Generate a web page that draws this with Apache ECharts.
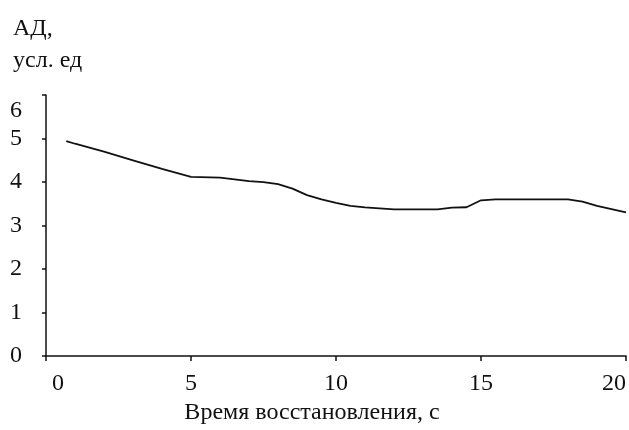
<!DOCTYPE html>
<html><head><meta charset="utf-8">
<script src="https://cdn.jsdelivr.net/npm/echarts@6/dist/echarts.min.js"></script>
<style>html,body{margin:0;padding:0;background:#fff}#c{width:629px;height:430px}</style>
</head><body><div id="c"></div>
<script>
const timeSec = [0.7, 1, 2, 3, 4, 5, 6, 7, 7.5, 8, 8.5, 9, 9.5, 10, 10.5, 11, 12, 13, 13.5, 14, 14.5, 15, 15.5, 16, 17, 18, 18.5, 19, 19.5, 20];
const adValues = [4.94, 4.88, 4.70, 4.50, 4.30, 4.12, 4.10, 4.02, 4.00, 3.95, 3.85, 3.70, 3.60, 3.52, 3.45, 3.42, 3.37, 3.37, 3.37, 3.41, 3.42, 3.58, 3.60, 3.60, 3.60, 3.60, 3.55, 3.45, 3.38, 3.30];
const xTicks = [0, 5, 10, 15, 20];
const yTicks = [0, 1, 2, 3, 4, 5, 6];
const yTitle = 'АД,\nусл. ед';
const xTitle = 'Время восстановления, с';

const font = 'Liberation Serif';
const fs = 24;
const chart = echarts.init(document.getElementById('c'), null, {renderer: 'canvas'});
chart.setOption({
  animation: false,
  backgroundColor: '#fff',
  title: {
    text: yTitle, left: 8, top: 8,
    textStyle: {fontFamily: font, fontSize: fs, fontWeight: 'normal', color: '#111', lineHeight: 32}
  },
  grid: {left: 46, right: 3, top: 95, bottom: 73},
  xAxis: {
    type: 'value', min: 0, max: 20, interval: 5,
    name: xTitle, nameLocation: 'middle', nameGap: 44,
    nameTextStyle: {fontFamily: font, fontSize: fs, color: '#111', padding: [0, 48, 0, 0]},
    axisLine: {lineStyle: {color: '#111', width: 1.5}},
    axisTick: {show: true, length: 5, lineStyle: {color: '#111', width: 1.5}},
    axisLabel: {
      fontFamily: font, fontSize: fs, color: '#111', margin: 16,
      alignMinLabel: 'left', alignMaxLabel: 'right',
      customValues: xTicks,
      formatter: v => v === xTicks[0] ? '{z|' + v + '}' : String(v),
      rich: {z: {fontFamily: font, fontSize: fs, color: '#111', padding: [0, 0, 0, 6]}}
    },
    splitLine: {show: false}
  },
  yAxis: {
    type: 'value', min: 0, max: 6, interval: 1,
    axisLine: {show: true, lineStyle: {color: '#111', width: 1.5}},
    axisTick: {show: true, length: 4, lineStyle: {color: '#111', width: 1.5}},
    axisLabel: {
      fontFamily: font, fontSize: fs, color: '#111', margin: 24, customValues: yTicks,
      verticalAlignMaxLabel: 'top',
      formatter: v => v === yTicks[yTicks.length - 1] ? '{t|' + v + '}' : String(v),
      rich: {t: {fontFamily: font, fontSize: fs, color: '#111', padding: [4, 0, 0, 0]}}
    },
    splitLine: {show: false}
  },
  series: [{
    type: 'line', symbol: 'none',
    data: timeSec.map((t, i) => [t, adValues[i]]),
    lineStyle: {color: '#111', width: 1.8}
  }]
});
</script></body></html>
